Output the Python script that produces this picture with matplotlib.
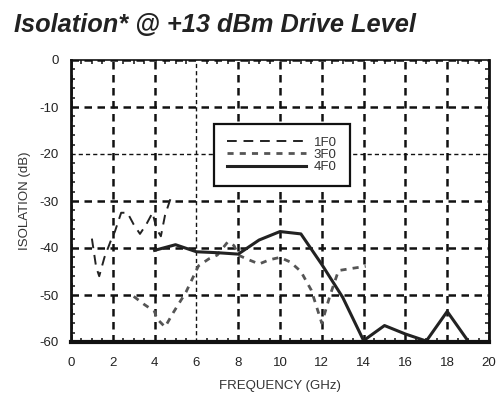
import matplotlib
matplotlib.use("Agg")
import matplotlib.pyplot as plt
from matplotlib.ticker import MultipleLocator

# ---- data ----
f1_x = [1.0, 1.2, 1.35, 1.6, 1.9, 2.1, 2.4, 2.7, 3.0, 3.3, 3.6, 3.9, 4.1, 4.3, 4.5, 4.8]
f1_y = [-38, -44, -46, -42, -38.5, -36.5, -32.5, -32.5, -35, -37, -35, -32.5, -36, -37.5, -33, -29]

f3_x = [3.0, 3.5, 4.0, 4.1, 4.5, 4.9, 5.5, 6.1, 6.6, 7.0, 7.5, 7.8, 8.0, 8.5, 9.0, 9.5,
        10.0, 10.5, 11.0, 11.5, 12.0, 12.4, 12.8, 13.5, 14.1]
f3_y = [-50.3, -52, -53.5, -55, -56.8, -53.7, -49.4, -43.8, -42.3, -41.5, -38.7, -39.5,
        -41.5, -42.5, -43.4, -42.5, -42, -43, -45, -49, -56, -50, -44.8, -44.3, -43.9]

f4_x = [4, 5, 6, 7, 8, 9, 10, 11, 12, 13, 14, 15, 16, 17, 18, 19]
f4_y = [-40.5, -39.3, -40.8, -41, -41.3, -38.3, -36.5, -37, -43.5, -50.5, -59.7, -56.5,
        -58.3, -59.8, -53.5, -59.8]

labels = ["1F0", "3F0", "4F0"]
xticks = [0, 2, 4, 6, 8, 10, 12, 14, 16, 18, 20]
yticks = [0, -10, -20, -30, -40, -50, -60]

plt.rcParams['font.family'] = ['Liberation Sans', 'DejaVu Sans']
plt.rcParams['axes.unicode_minus'] = False

fig = plt.figure(figsize=(4.98, 4.03), dpi=100)
ax = fig.add_axes([71/498, 61/403, 418/498, 282/403])

ax.plot(f1_x, f1_y, color='#222222', lw=1.4, dashes=(5, 3.5), label=labels[0])
ax.plot(f3_x, f3_y, color='#555555', lw=2.0, dashes=(2.2, 2.2), label=labels[1])
ax.plot(f4_x, f4_y, color='#222222', lw=2.2, label=labels[2])

ax.set_xlim(0, 20)
ax.set_ylim(-60, 0)
ax.set_xticks(xticks)
ax.set_yticks(yticks)
ax.xaxis.set_minor_locator(MultipleLocator(0.5))
ax.yaxis.set_minor_locator(MultipleLocator(2))
ax.tick_params(which='both', direction='in', top=True, right=True, colors='#222222')
ax.tick_params(which='major', length=0, labelsize=9.5, pad=9)
ax.tick_params(which='minor', length=3, width=1.2)
ax.tick_params(axis='x', which='major', pad=11)

ax.grid(True, which='major', color='#111111', lw=1.8, linestyle=(0, (3, 2.2)))
for i, gl in enumerate(ax.get_xgridlines()):
    if xticks[i] == 6:
        gl.set_linewidth(1.0)
for i, gl in enumerate(ax.get_ygridlines()):
    if yticks[i] == -20:
        gl.set_linewidth(1.0)

for s in ax.spines.values():
    s.set_linewidth(2.0)
    s.set_color('#111111')
ax.spines['bottom'].set_linewidth(3.0)
ax.spines['top'].set_linewidth(1.2)

ax.set_xlabel("FREQUENCY (GHz)", fontsize=9.5, color='#333333', labelpad=8)
ax.set_ylabel("ISOLATION (dB)", fontsize=9.5, color='#333333', labelpad=6)

leg = ax.legend(loc='center', bbox_to_anchor=(0.342, 0.55, 0.325, 0.227),
                frameon=True, fancybox=False, edgecolor='#111111', framealpha=1,
                fontsize=9.5, handlelength=6.0, handletextpad=0.6, borderpad=0.98,
                labelspacing=0.0, borderaxespad=0)
leg.get_frame().set_linewidth(1.6)
for t in leg.get_texts():
    t.set_color('#333333')

fig.text(14/498, 1 - 32/403, "Isolation* @ +13 dBm Drive Level",
         family=['Liberation Sans Narrow', 'Liberation Sans'], fontsize=18.3,
         fontweight='bold', fontstyle='italic', color='#222222', va='baseline')

fig.savefig("out.png", dpi=100)
